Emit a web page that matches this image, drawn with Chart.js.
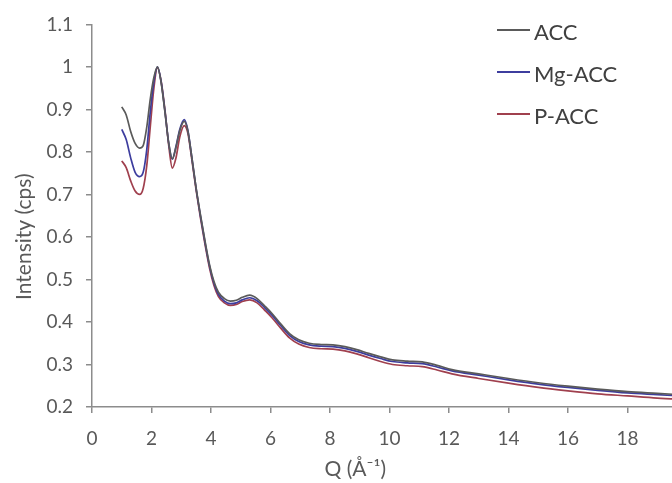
<!DOCTYPE html>
<html>
<head>
<meta charset="utf-8">
<script src="https://cdn.jsdelivr.net/npm/chart.js@4.4.1/dist/chart.umd.min.js"></script>
<style>
  body { margin: 0; background: #fff; }
  #wrap { position: relative; width: 672px; height: 483px; overflow: hidden; }
  #legend { position: absolute; left: 497px; top: 18px; font-family: Lato, "Open Sans", sans-serif; font-size: 22px; color: #404040; }
  #legend div { height: 42px; line-height: 28px; white-space: nowrap; }
  #legend span.ln { display: inline-block; width: 33px; height: 2px; vertical-align: middle; position: relative; top: -4px; margin-right: 4px; }
</style>
</head>
<body>
<div id="wrap">
  <canvas id="xrdChart" width="712" height="483"></canvas>
  <div id="legend"></div>
</div>
<script>
var q = [1.0, 1.15, 1.3, 1.45, 1.6, 1.72, 1.84, 1.96, 2.08, 2.2, 2.32, 2.45, 2.58, 2.7, 2.82, 2.95,
  3.1, 3.22, 3.35, 3.5, 3.65, 3.8, 3.95, 4.1, 4.25, 4.45, 4.65, 4.85, 5.05, 5.3, 5.55, 5.8,
  6.05, 6.35, 6.65, 6.95, 7.3, 7.7, 8.1, 8.5, 8.9, 9.3, 9.7, 10.1, 10.6, 11.1, 11.6, 12.1,
  13, 14, 15, 16, 17, 18, 19, 20];

var acc = [0.906, 0.887, 0.848, 0.820, 0.809, 0.815, 0.858, 0.925, 0.975, 1.0, 0.965, 0.895, 0.82, 0.784, 0.81, 0.85,
  0.872, 0.85, 0.79, 0.715, 0.65, 0.59, 0.535, 0.495, 0.47, 0.455, 0.449, 0.451, 0.458, 0.463, 0.455, 0.438,
  0.42, 0.395, 0.372, 0.358, 0.35, 0.347, 0.346, 0.342, 0.335, 0.326, 0.318, 0.311, 0.308, 0.306, 0.298, 0.288,
  0.278, 0.267, 0.257, 0.249, 0.242, 0.236, 0.232, 0.228];

var mgAcc = [0.853, 0.829, 0.786, 0.752, 0.742, 0.752, 0.805, 0.895, 0.965, 1.0, 0.967, 0.897, 0.82, 0.783, 0.812, 0.853,
  0.876, 0.852, 0.79, 0.714, 0.648, 0.587, 0.532, 0.491, 0.465, 0.449, 0.443, 0.445, 0.452, 0.457, 0.45, 0.434,
  0.416, 0.391, 0.368, 0.354, 0.346, 0.343, 0.342, 0.338, 0.331, 0.322, 0.314, 0.307, 0.304, 0.302, 0.294, 0.285,
  0.275, 0.264, 0.254, 0.246, 0.239, 0.233, 0.229, 0.225];

var pAcc = [0.779, 0.763, 0.732, 0.708, 0.700, 0.714, 0.767, 0.86, 0.95, 0.998, 0.968, 0.9, 0.815, 0.762, 0.785, 0.835,
  0.862, 0.845, 0.785, 0.71, 0.643, 0.582, 0.527, 0.486, 0.46, 0.445, 0.439, 0.441, 0.448, 0.452, 0.445, 0.428,
  0.41, 0.385, 0.362, 0.348, 0.34, 0.337, 0.336, 0.332, 0.325, 0.316, 0.307, 0.3, 0.297, 0.295, 0.287, 0.278,
  0.267, 0.256, 0.246, 0.238, 0.231, 0.226, 0.221, 0.218];

var seriesNames = ["ACC", "Mg-ACC", "P-ACC"];
var seriesColors = ["#5a5a5a", "#3d3d9e", "#a0404e"];
var yTicks = [0.2, 0.3, 0.4, 0.5, 0.6, 0.7, 0.8, 0.9, 1, 1.1];

function pts(ys) {
  return q.map(function (x, i) { return { x: x, y: ys[i] }; });
}

var axisGrey = "#8c8c8c";
var fam = "Lato, 'Open Sans', sans-serif";
var tickFont = { family: fam, size: 19 };
var titleFont = { family: fam, size: 21 };

var ctx = document.getElementById("xrdChart").getContext('2d');
var myChart = new Chart(ctx, {
  type: 'line',
  data: {
    datasets: [acc, mgAcc, pAcc].map(function (ys, i) {
      return {
        label: seriesNames[i],
        data: pts(ys),
        borderColor: seriesColors[i],
        borderWidth: 1.7,
        pointRadius: 0,
        fill: false,
        cubicInterpolationMode: 'monotone'
      };
    })
  },
  options: {
    responsive: false,
    animation: false,
    layout: { padding: { top: 20, right: 20, left: 0, bottom: 0 } },
    plugins: {
      legend: { display: false },
      tooltip: { enabled: false }
    },
    scales: {
      x: {
        type: 'linear',
        min: 0,
        max: 20,
        afterFit: function (scale) { scale.height = 76; },
        ticks: { stepSize: 2, color: "#595959", font: tickFont, padding: 14, maxRotation: 0 },
        grid: { drawOnChartArea: false, color: axisGrey, tickLength: 6, lineWidth: 1.5 },
        border: { color: axisGrey, width: 1.5 },
        title: {
          display: true,
          // trailing spaces nudge the title left, like the original
          text: "Q (Å⁻¹)\u2002\u2002\u2002\u2002\u2002\u2002\u2005",
          color: "#595959",
          font: titleFont,
          padding: { top: 0, bottom: 1 }
        }
      },
      y: {
        min: 0.2,
        max: 1.1,
        afterFit: function (scale) { scale.width = 92; },
        afterBuildTicks: function (scale) {
          scale.ticks = yTicks.map(function (v) { return { value: v }; });
        },
        ticks: {
          color: "#595959",
          font: tickFont,
          padding: 13,
          callback: function (v) { return String(Number(v.toFixed(1))); }
        },
        grid: { drawOnChartArea: false, color: axisGrey, tickLength: 6, lineWidth: 1.5 },
        border: { color: axisGrey, width: 1.5 },
        title: {
          display: true,
          text: "Intensity (cps)\u2002\u2002\u2002\u2002",
          color: "#595959",
          font: titleFont,
          padding: { top: 12, bottom: 0 }
        }
      }
    }
  }
});

var legend = document.getElementById("legend");
seriesNames.forEach(function (name, i) {
  var row = document.createElement("div");
  var ln = document.createElement("span");
  ln.className = "ln";
  ln.style.background = seriesColors[i];
  row.appendChild(ln);
  row.appendChild(document.createTextNode(name));
  legend.appendChild(row);
});
</script>
</body>
</html>
